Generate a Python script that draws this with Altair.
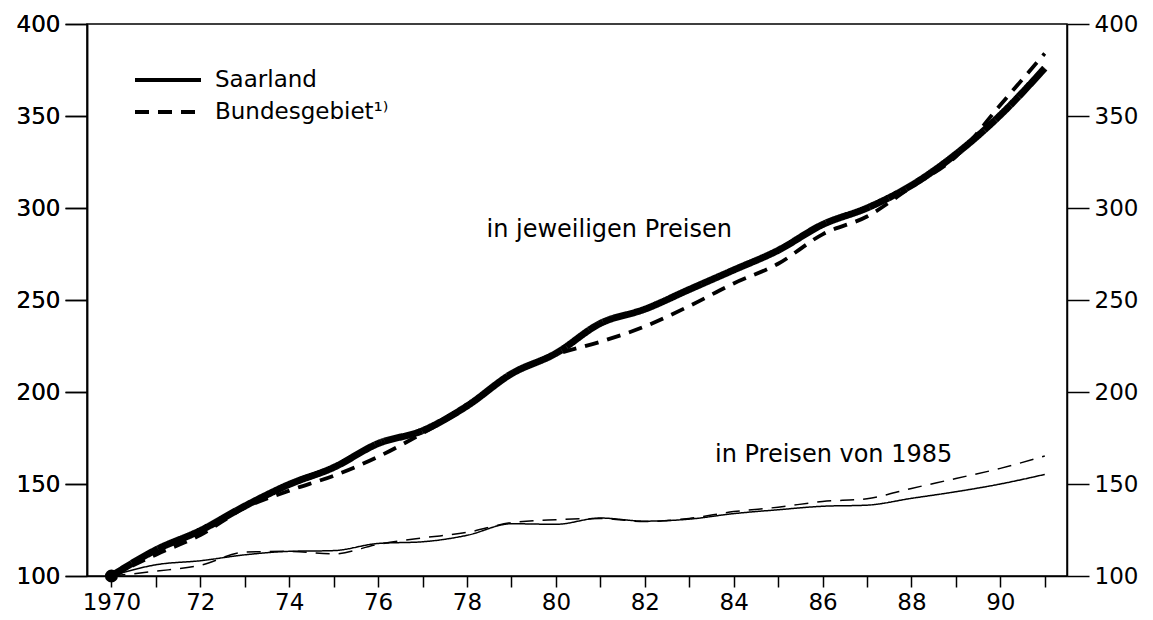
import altair as alt
import pandas as pd

years = list(range(1970, 1992))
saar_nom = [100, 114.2, 124.7, 138, 149.8, 159, 172, 179, 192.4, 209.9, 221, 237.3,
            245, 255.7, 266.3, 277, 291, 300, 312.3, 329.3, 350.5, 376]
bund_nom = [100, 111.6, 122.3, 137, 146.4, 154.5, 164.8, 177.6, 191.7, 209.5, 220.3, 227.3,
            235.6, 246.7, 259, 269.7, 285.7, 295.4, 311.5, 328, 356, 384]
saar_real = [100, 106.1, 108.3, 111.5, 113.4, 113.8, 117.7, 118.6, 122.1, 128.4, 128.1, 131.5,
             129.8, 130.9, 133.9, 136, 137.9, 138.5, 142.2, 145.8, 150, 155.2]
bund_real = [100, 102.6, 105.8, 113, 113.4, 112, 117.2, 120.7, 123.7, 129, 130.6, 131.2,
             129.6, 131.3, 135, 137.4, 140.5, 142, 147.6, 153, 158.5, 165.2]

regions = ["Saarland", "Bundesgebiet¹⁾"]
y_ticks = [100, 150, 200, 250, 300, 350, 400]

rows = []
for reg, kind, vals in [
    (regions[0], "nom", saar_nom),
    (regions[1], "nom", bund_nom),
    (regions[0], "real", saar_real),
    (regions[1], "real", bund_real),
]:
    for yr, v in zip(years, vals):
        rows.append({"year": yr, "value": v, "region": reg, "key": reg + "_" + kind})
df = pd.DataFrame(rows)

keys = [regions[0] + "_nom", regions[1] + "_nom", regions[0] + "_real", regions[1] + "_real"]

labels_df = pd.DataFrame({
    "year": [1981.2, 1986.25],
    "value": [288, 166],
    "text": ["in jeweiligen Preisen", "in Preisen von 1985"],
})

start_df = pd.DataFrame({"year": [years[0]], "value": [saar_nom[0]]})

FONT = "DejaVu Sans"

xscale = alt.Scale(domain=[1969.45, 1991.5], nice=False, zero=False)
yscale = alt.Scale(domain=[100, 400], nice=False, zero=False)

xaxis = alt.Axis(values=years, title=None, grid=False, tickSize=11, tickWidth=1.5,
                 tickColor="black", domainColor="black", domainWidth=1.5,
                 labelFont=FONT, labelFontSize=23, labelColor="black", labelPadding=4,
                 labelExpr="datum.value == 1970 ? '1970' : (datum.value % 2 == 0 ? '' + (datum.value - 1900) : '')")

def yaxis(orient):
    return alt.Axis(orient=orient, values=y_ticks, title=None, grid=False, tickSize=22,
                    tickWidth=1.5, tickColor="black", domainColor="black", domainWidth=1.5,
                    labelFont=FONT, labelFontSize=23, labelColor="black", labelPadding=5)

X = alt.X("year:Q", scale=xscale, axis=xaxis)

lines = alt.Chart(df).mark_line(color="black", interpolate="monotone").encode(
    x=X,
    y=alt.Y("value:Q", scale=yscale, axis=yaxis("left")),
    detail="key:N",
    strokeDash=alt.StrokeDash(
        "region:N",
        scale=alt.Scale(domain=regions, range=[[1, 0], [14, 9]]),
        legend=alt.Legend(title=None, orient="none", legendX=68, legendY=43,
                          symbolType="M-3,0H3", symbolSize=484, symbolStrokeWidth=4,
                          symbolStrokeColor="black", symbolFillColor="transparent",
                          labelFont=FONT, labelFontSize=23,
                          labelColor="black", labelOffset=34, rowPadding=7, padding=0,
                          labelLimit=0),
    ),
    strokeWidth=alt.StrokeWidth(
        "key:N",
        scale=alt.Scale(type="ordinal", domain=keys, range=[7, 3.8, 1.5, 1.5]),
        legend=None,
    ),
)

dot = alt.Chart(start_df).mark_circle(color="black", size=170, opacity=1).encode(
    x=X,
    y=alt.Y("value:Q", scale=yscale, axis=yaxis("left")),
)

texts = alt.Chart(labels_df).mark_text(font=FONT, fontSize=24, color="black",
                                       align="center", baseline="middle").encode(
    x=X,
    y=alt.Y("value:Q", scale=yscale, axis=yaxis("right")),
    text="text:N",
)

chart = alt.layer(lines, dot, texts).resolve_axis(y="independent").properties(
    width=980, height=552,
    padding={"left": 8, "top": 5, "right": 5, "bottom": 5},
    background="white",
).configure_view(stroke="black", strokeWidth=1.5)

chart.save("out.html", embed_options={"renderer": "svg", "actions": False})
